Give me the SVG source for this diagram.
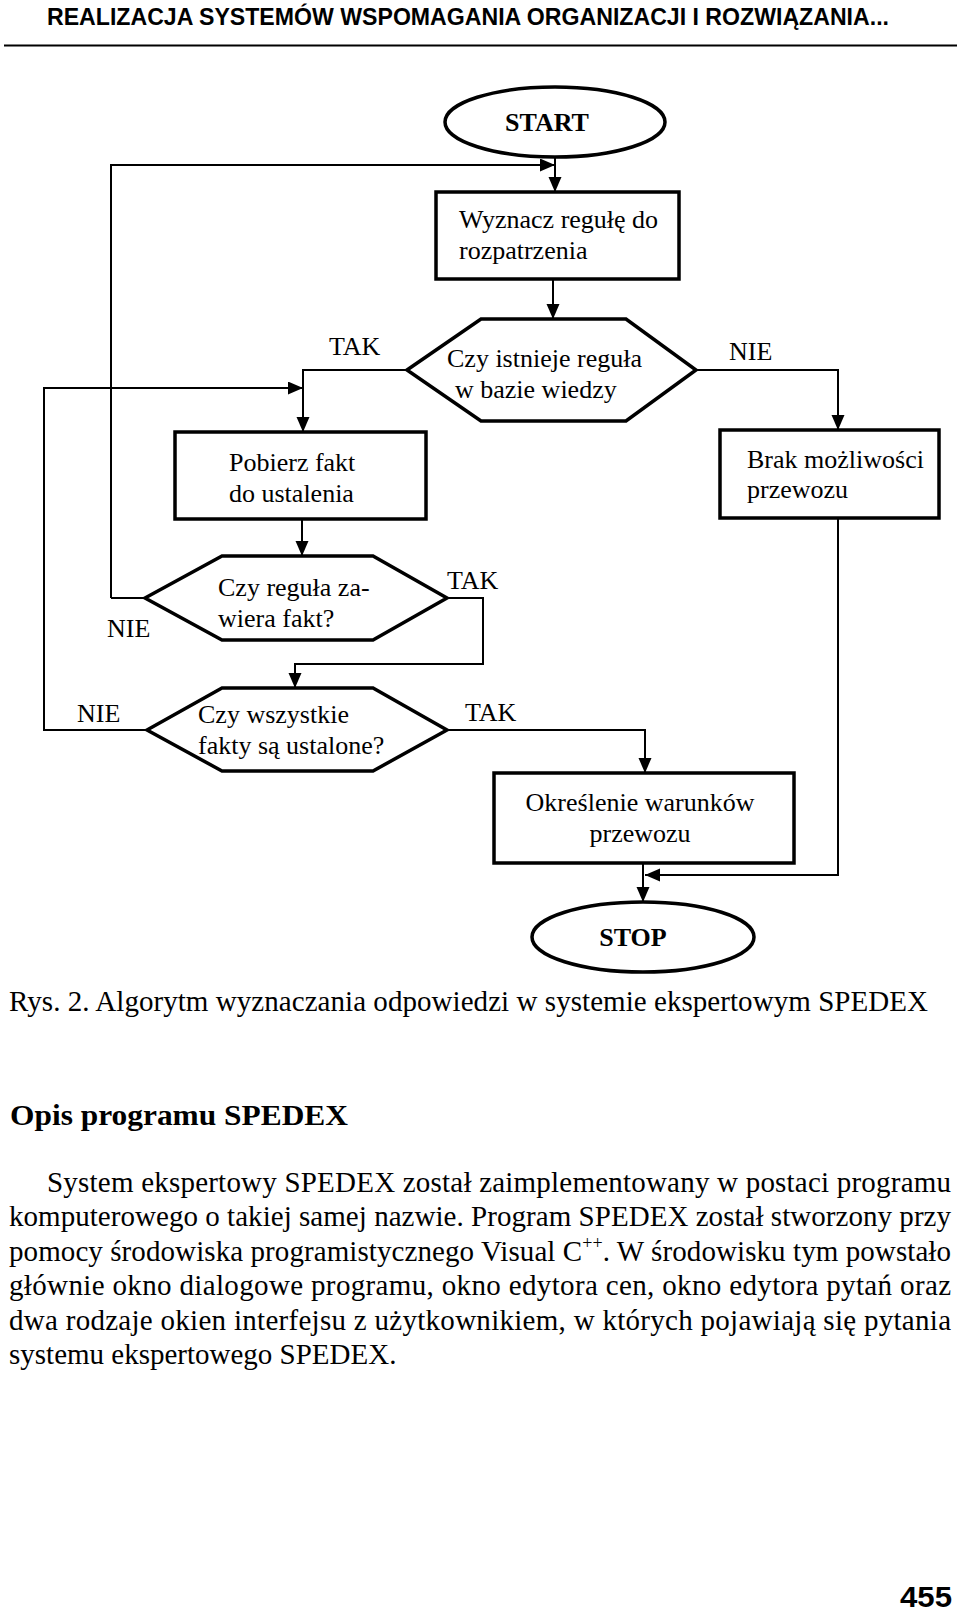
<svg xmlns="http://www.w3.org/2000/svg" width="960" height="1620" viewBox="0 0 960 1620">
<style>
.box{fill:#fff;stroke:#000;stroke-width:3.5}
.ln{fill:none;stroke:#000;stroke-width:2}
.t{font-family:"Liberation Serif","Times New Roman",serif;font-size:26px;fill:#000}
.tb{font-family:"Liberation Serif","Times New Roman",serif;font-size:26px;font-weight:bold;fill:#000}
.body{font-family:"Liberation Serif","Times New Roman",serif;font-size:29px;fill:#000}
.hdr{font-family:"Liberation Sans",Arial,sans-serif;font-weight:bold;fill:#000}
</style>
<defs>
<marker id="ar" markerUnits="userSpaceOnUse" markerWidth="16" markerHeight="14" refX="15" refY="6.5" orient="auto">
<path d="M0,0 L15,6.5 L0,13 z" fill="#000"/>
</marker>
</defs>
<rect width="960" height="1620" fill="#fff"/>
<g id="header">
<text class="hdr" x="47" y="25" font-size="24" textLength="842" lengthAdjust="spacingAndGlyphs">REALIZACJA SYSTEMÓW WSPOMAGANIA ORGANIZACJI I ROZWIĄZANIA...</text>
<line x1="4" y1="45.5" x2="957" y2="45.5" stroke="#000" stroke-width="2"/>
</g>
<g id="connectors">
<path class="ln" d="M555,157 V192" marker-end="url(#ar)"/>
<path class="ln" d="M111,598 V165 H555" marker-end="url(#ar)"/>
<path class="ln" d="M553,279 V319" marker-end="url(#ar)"/>
<path class="ln" d="M407,370 H303 V432" marker-end="url(#ar)"/>
<path class="ln" d="M147,730 H44 V388 H303" marker-end="url(#ar)"/>
<path class="ln" d="M696,370 H838 V430" marker-end="url(#ar)"/>
<path class="ln" d="M838,518 V875 H645" marker-end="url(#ar)"/>
<path class="ln" d="M302,519 V556" marker-end="url(#ar)"/>
<path class="ln" d="M145,598 H111"/>
<path class="ln" d="M447,598 H483 V664 H295 V688" marker-end="url(#ar)"/>
<path class="ln" d="M447,730 H645 V773" marker-end="url(#ar)"/>
<path class="ln" d="M643,863 V902" marker-end="url(#ar)"/>
</g>
<g id="start">
<ellipse class="box" cx="555" cy="122" rx="110" ry="35"/>
<text class="tb" x="547" y="131" text-anchor="middle">START</text>
</g>
<g id="wyznacz">
<rect class="box" x="436" y="192" width="243" height="87"/>
<text class="t" x="459" y="228">Wyznacz regułę do</text>
<text class="t" x="459" y="259">rozpatrzenia</text>
</g>
<g id="czy-istnieje">
<polygon class="box" points="407,370 481,319 626,319 696,370 626,421 481,421"/>
<text class="t" x="447" y="367">Czy istnieje reguła</text>
<text class="t" x="455" y="398">w bazie wiedzy</text>
<text class="t" x="329" y="355">TAK</text>
<text class="t" x="729" y="360">NIE</text>
</g>
<g id="pobierz">
<rect class="box" x="175" y="432" width="251" height="87"/>
<text class="t" x="229" y="471">Pobierz fakt</text>
<text class="t" x="229" y="502">do ustalenia</text>
</g>
<g id="brak">
<rect class="box" x="720" y="430" width="219" height="88"/>
<text class="t" x="747" y="468">Brak możliwości</text>
<text class="t" x="747" y="498">przewozu</text>
</g>
<g id="czy-regula">
<polygon class="box" points="145,598 222,556 373,556 447,598 373,640 222,640"/>
<text class="t" x="218" y="596">Czy reguła za-</text>
<text class="t" x="218" y="627">wiera fakt?</text>
<text class="t" x="107" y="637">NIE</text>
<text class="t" x="447" y="589">TAK</text>
</g>
<g id="czy-wszystkie">
<polygon class="box" points="147,730 222,688 373,688 447,730 373,771 222,771"/>
<text class="t" x="198" y="723">Czy wszystkie</text>
<text class="t" x="198" y="754">fakty są ustalone?</text>
<text class="t" x="77" y="722">NIE</text>
<text class="t" x="465" y="721">TAK</text>
</g>
<g id="okreslenie">
<rect class="box" x="494" y="773" width="300" height="90"/>
<text class="t" x="640" y="811" text-anchor="middle">Określenie warunków</text>
<text class="t" x="640" y="842" text-anchor="middle">przewozu</text>
</g>
<g id="stop">
<ellipse class="box" cx="643" cy="937" rx="111" ry="35"/>
<text class="tb" x="633" y="946" text-anchor="middle">STOP</text>
</g>
<g id="text">
<text class="body" x="9" y="1011" textLength="919" lengthAdjust="spacing">Rys. 2. Algorytm wyznaczania odpowiedzi w systemie ekspertowym SPEDEX</text>
<text class="body" x="10" y="1125" font-size="31" font-weight="bold" textLength="338" lengthAdjust="spacingAndGlyphs">Opis programu SPEDEX</text>
<text class="body" x="47" y="1192" textLength="904" lengthAdjust="spacing">System ekspertowy SPEDEX został zaimplementowany w postaci programu</text>
<text class="body" x="9" y="1226" textLength="942" lengthAdjust="spacing">komputerowego o takiej samej nazwie. Program SPEDEX został stworzony przy</text>
<text class="body" x="9" y="1261" textLength="942" lengthAdjust="spacing">pomocy środowiska programistycznego Visual C<tspan font-size="18" dy="-12">++</tspan><tspan dy="12">. W środowisku tym powstało</tspan></text>
<text class="body" x="9" y="1295" textLength="942" lengthAdjust="spacing">głównie okno dialogowe programu, okno edytora cen, okno edytora pytań oraz</text>
<text class="body" x="9" y="1330" textLength="942" lengthAdjust="spacing">dwa rodzaje okien interfejsu z użytkownikiem, w których pojawiają się pytania</text>
<text class="body" x="9" y="1364">systemu ekspertowego SPEDEX.</text>
<text class="hdr" x="900" y="1607" font-size="29" textLength="52" lengthAdjust="spacingAndGlyphs">455</text>
</g>
</svg>
